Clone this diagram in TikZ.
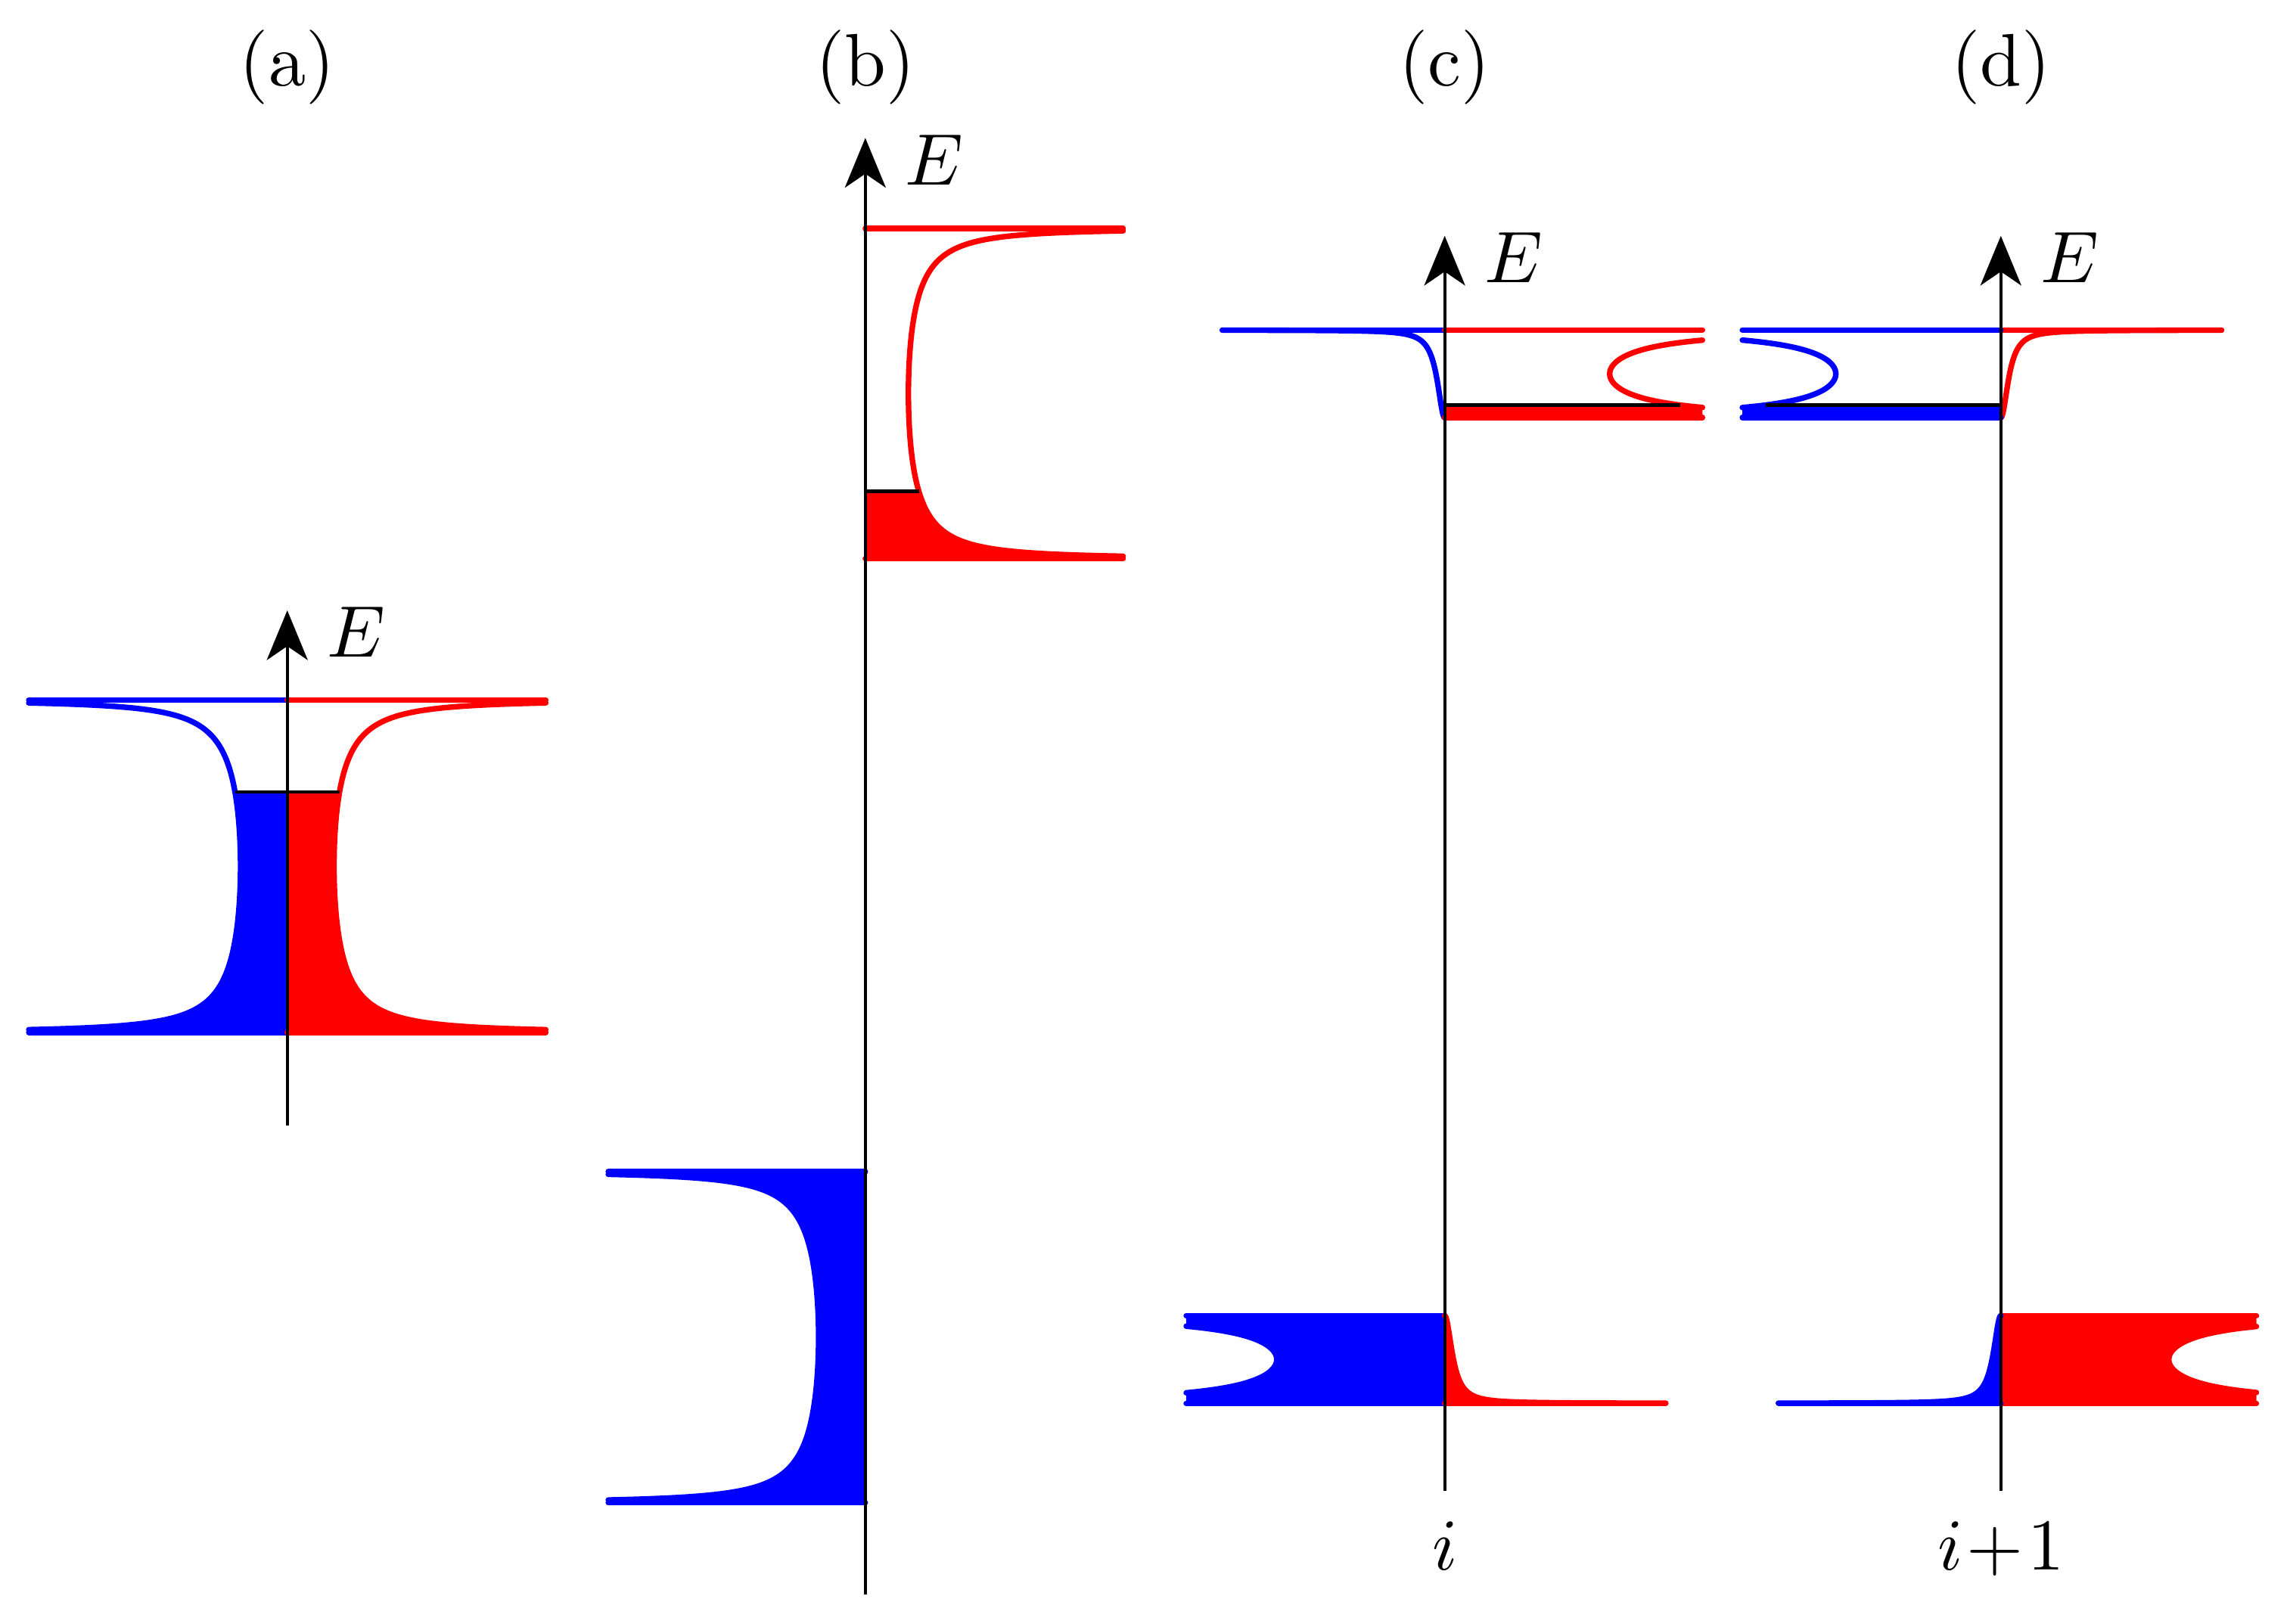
\documentclass[tikz,border=0pt]{standalone}
\usetikzlibrary{arrows.meta}
\definecolor{spinblue}{RGB}{0,0,255}
\definecolor{spinred}{RGB}{255,0,0}
\tikzset{
  bandline/.style={line width=0.076cm, line cap=round, line join=round},
  axisline/.style={line width=0.044cm, black, -{Stealth[length=0.68cm,width=0.56cm,inset=0.19cm]}},
  fermiline/.style={line width=0.044cm, black},
  panellab/.style={scale=2.9, inner sep=0pt, anchor=base},
  elab/.style={scale=2.845, inner sep=0pt, anchor=base west},
  sitelab/.style={scale=2.845, inner sep=0pt, anchor=base},
}
% main band (1D density of states): x0, side, ymid, half height, centre width, max width, colour
\newcommand{\bandmain}[7]{%
  \pgfmathsetmacro{\bmT}{acos(#5/#6)}%
  \draw[bandline,#7] (#1,{#3-#4}) -- ({#1+(#2)*#6},{#3-#4});
  \draw[bandline,#7] (#1,{#3+#4}) -- ({#1+(#2)*#6},{#3+#4});
  \draw[bandline,#7] plot[domain=-\bmT:\bmT, samples=300, variable=\t]
     ({#1+(#2)*#5/cos(\t)},{#3-#4*sin(\t)});
}
% fill of a main band from its bottom up to u = #8
\newcommand{\bandfillpart}[8]{%
  \pgfmathsetmacro{\bmT}{acos(#5/#6)}%
  \pgfmathsetmacro{\bmF}{asin(#8)}%
  \fill[#7] (#1,{#3+#4}) -- ({#1+(#2)*#6},{#3+#4})
     -- plot[domain=-\bmT:\bmF, samples=300, variable=\t]
        ({#1+(#2)*#5/cos(\t)},{#3-#4*sin(\t)})
     -- (#1,{#3-#4*(#8)}) -- cycle;
}
% fill of a whole main band
\newcommand{\bandfillfull}[7]{%
  \pgfmathsetmacro{\bmT}{acos(#5/#6)}%
  \fill[#7] (#1,{#3+#4}) -- ({#1+(#2)*#6},{#3+#4})
     -- plot[domain=-\bmT:\bmT, samples=300, variable=\t]
        ({#1+(#2)*#5/cos(\t)},{#3-#4*sin(\t)})
     -- ({#1+(#2)*#6},{#3-#4}) -- (#1,{#3-#4}) -- cycle;
}
% tail: x0, side, ymid, half height, B, max width, colour, dir (+1 large at top, -1 large at bottom)
\newcommand{\bandtail}[8]{%
  \pgfmathsetmacro{\btP}{atan(#6/#5)}%
  \draw[bandline,#7] (#1,{#3-(#8)*#4}) -- ({#1+(#2)*#6},{#3-(#8)*#4});
  \draw[bandline,#7] plot[domain=0:\btP, samples=300, variable=\p]
     ({#1+(#2)*#5*tan(\p)},{#3+(#8)*#4*cos(2*\p)});
}
\newcommand{\tailfillfull}[8]{%
  \pgfmathsetmacro{\btP}{atan(#6/#5)}%
  \fill[#7] plot[domain=0:\btP, samples=300, variable=\p]
     ({#1+(#2)*#5*tan(\p)},{#3+(#8)*#4*cos(2*\p)})
     -- ({#1+(#2)*#6},{#3-(#8)*#4}) -- (#1,{#3-(#8)*#4}) -- cycle;
}
% tail filled from its (zero) bottom to level y = #8 (dir = +1 only)
\newcommand{\tailfillpart}[8]{%
  \pgfmathsetmacro{\btF}{acos((#8-#3)/#4)/2}%
  \fill[#7] plot[domain=0:\btF, samples=100, variable=\p]
     ({#1+(#2)*#5*tan(\p)},{#3+#4*cos(2*\p)})
     -- (#1,#8) -- cycle;
}
\begin{document}
\begin{tikzpicture}[x=0.02cm,y=-0.02cm]
\useasboundingbox (0,0) rectangle (1568,1112);

% ---------------- (a) ----------------
\bandfillpart{196.7}{-1}{593.25}{113.75}{32}{177}{spinblue}{0.448}
\bandfillpart{196.7}{1}{593.25}{113.75}{32}{177}{spinred}{0.448}
\bandmain{196.7}{-1}{593.25}{113.75}{32}{177}{spinblue}
\bandmain{196.7}{1}{593.25}{113.75}{32}{177}{spinred}
\pgfmathsetmacro{\fwa}{32/sqrt(1-0.448^2)}
\coordinate (aFl) at ({196.7-\fwa},542.3);
\coordinate (aFr) at ({196.7+\fwa},542.3);
\draw[fermiline] (aFl) -- (aFr);
\coordinate (abot) at (196.7,770.6);
\coordinate (atop) at (196.7,418);
\draw[axisline] (abot) -- (atop);
\node[elab] (aE) at (223.2,450) {$E$};
\node[panellab] (alab) at (196.7,59) {(a)};

% ---------------- (b) ----------------
\bandfillpart{592.5}{1}{269.5}{113}{29.5}{176.5}{spinred}{-0.5929}
\bandfillfull{592.5}{-1}{915.7}{113.4}{32}{176}{spinblue}
\bandmain{592.5}{1}{269.5}{113}{29.5}{176.5}{spinred}
\bandmain{592.5}{-1}{915.7}{113.4}{32}{176}{spinblue}
\pgfmathsetmacro{\fwb}{29.5/sqrt(1-0.5929^2)}
\coordinate (bFl) at (592.5,336.5);
\coordinate (bFr) at ({592.5+\fwb},336.5);
\draw[fermiline] (bFl) -- (bFr);
\coordinate (bbot) at (592.5,1092);
\coordinate (btop) at (592.5,94.5);
\draw[axisline] (bbot) -- (btop);
\node[elab] (bE) at (619,126.5) {$E$};
\node[panellab] (blab) at (592.5,59) {(b)};

% ---------------- (c) ----------------
% upper band
\tailfillpart{989.2}{-1}{256}{30}{6}{152}{spinblue}{277.4}
\bandfillpart{989.2}{1}{256}{30}{113}{176.5}{spinred}{-0.7133}
\bandtail{989.2}{-1}{256}{30}{6}{152}{spinblue}{1}
\bandmain{989.2}{1}{256}{30}{113}{176.5}{spinred}
% lower band
\bandfillfull{989.2}{-1}{931}{30}{115}{177}{spinblue}
\tailfillfull{989.2}{1}{931}{30}{6}{151.3}{spinred}{-1}
\bandmain{989.2}{-1}{931}{30}{115}{177}{spinblue}
\bandtail{989.2}{1}{931}{30}{6}{151.3}{spinred}{-1}
\pgfmathsetmacro{\fwc}{113/sqrt(1-0.7133^2)}
\coordinate (cFl) at (989.2,277.4);
\coordinate (cFr) at ({989.2+\fwc},277.4);
\draw[fermiline] (cFl) -- (cFr);
\coordinate (cbot) at (989.2,1021);
\coordinate (ctop) at (989.2,161.5);
\draw[axisline] (cbot) -- (ctop);
\node[elab] (cE) at (1015.7,193.5) {$E$};
\node[panellab] (clab) at (989.2,59) {(c)};
\node[sitelab] (cs) at (989.2,1075) {$i$};

% ---------------- (d) ----------------
% upper band
\tailfillpart{1370}{1}{256}{30}{6}{151}{spinred}{277.4}
\bandfillpart{1370}{-1}{256}{30}{113}{177}{spinblue}{-0.7133}
\bandtail{1370}{1}{256}{30}{6}{151}{spinred}{1}
\bandmain{1370}{-1}{256}{30}{113}{177}{spinblue}
% lower band
\bandfillfull{1370}{1}{931}{30}{115}{175}{spinred}
\tailfillfull{1370}{-1}{931}{30}{6}{152}{spinblue}{-1}
\bandmain{1370}{1}{931}{30}{115}{175}{spinred}
\bandtail{1370}{-1}{931}{30}{6}{152}{spinblue}{-1}
\pgfmathsetmacro{\fwd}{113/sqrt(1-0.7133^2)}
\coordinate (dFl) at ({1370-\fwd},277.4);
\coordinate (dFr) at (1370,277.4);
\draw[fermiline] (dFl) -- (dFr);
\coordinate (dbot) at (1370,1021);
\coordinate (dtop) at (1370,161.5);
\draw[axisline] (dbot) -- (dtop);
\node[elab] (dE) at (1396.5,193.5) {$E$};
\node[panellab] (dlab) at (1370,59) {(d)};
\node[sitelab] (ds) at (1370,1075) {$i\!+\!1$};
\end{tikzpicture}
\end{document}
